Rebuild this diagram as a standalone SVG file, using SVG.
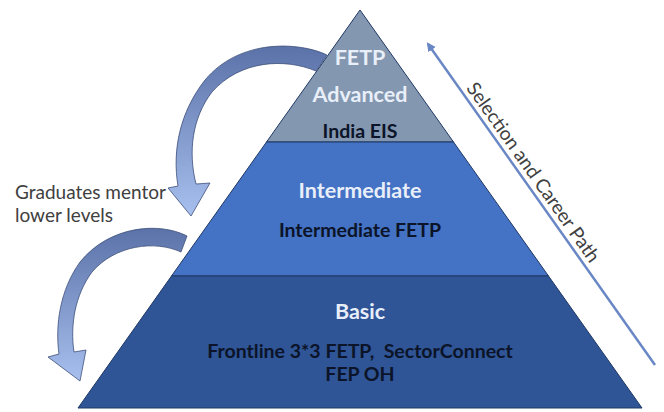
<svg xmlns="http://www.w3.org/2000/svg" width="664" height="412" viewBox="0 0 664 412">
  <style>
    .tier { stroke: #1f3864; stroke-width: 1; }
    .head { font-family: Lato, "Liberation Sans", sans-serif; font-weight: bold; font-size: 21.5px; fill: #e9eff9; text-anchor: middle; }
    .sub { font-family: Lato, "Liberation Sans", sans-serif; font-weight: bold; font-size: 19.5px; fill: #0b1428; text-anchor: middle; }
    .note { font-family: Lato, "Liberation Sans", sans-serif; font-size: 19px; fill: #404040; }
    .curve { fill: url(#curveGrad); stroke: #3d4f7a; stroke-width: 0.8; }
    .path-line { stroke: #6a87c5; stroke-width: 2.5; fill: none; }
  </style>
  <defs>
    <linearGradient id="curveGrad" x1="0" y1="0" x2="0" y2="1">
      <stop offset="0" stop-color="#5a72a8"/>
      <stop offset="1" stop-color="#a8c0ee"/>
    </linearGradient>
    <marker id="pathHead" markerWidth="10" markerHeight="10" refX="7" refY="5" orient="auto" markerUnits="userSpaceOnUse">
      <path d="M0,0.5 L9,5 L0,9.5 Z" fill="#6a87c5"/>
    </marker>
  </defs>

  <g id="tier-advanced">
    <polygon class="tier" points="360,10 453.5,142 266.5,142" fill="#8497b0"/>
    <text class="head" x="360" y="65">FETP</text>
    <text class="head" x="360" y="102">Advanced</text>
    <text class="sub" x="360" y="138">India EIS</text>
  </g>

  <g id="tier-intermediate">
    <polygon class="tier" points="266.5,142 453.5,142 548.5,276 171.5,276" fill="#4472c4"/>
    <text class="head" x="360" y="198">Intermediate</text>
    <text class="sub" x="360" y="237">Intermediate FETP</text>
  </g>

  <g id="tier-basic">
    <polygon class="tier" points="171.5,276 548.5,276 642,408 78,408" fill="#2f5597"/>
    <text class="head" x="360" y="319">Basic</text>
    <text class="sub" x="360" y="358" xml:space="preserve">Frontline 3*3 FETP,  SectorConnect</text>
    <text class="sub" x="360" y="381">FEP OH</text>
  </g>

  <g id="mentor-label">
    <text class="note" x="15" y="199">Graduates mentor</text>
    <text class="note" x="15" y="222">lower levels</text>
  </g>

  <g id="career-label">
    <text class="note" transform="translate(528,176) rotate(54.7)" text-anchor="middle">Selection and Career Path</text>
  </g>

  <g id="connectors">
    <path id="mentor-arrow-1" class="curve" d="M 327 55 C 300 42, 240 38, 205 80 C 180 112, 172 150, 178 186 L 168 188 L 191 216 L 210 183 L 196 184 C 188 152, 192 118, 212 92 C 240 60, 285 58, 316 71 Z"/>
    <path id="mentor-arrow-2" class="curve" d="M 187 236 C 160 222, 110 225, 80 262 C 60 290, 55 325, 59 354 L 48 357 L 80 381 L 86 350 L 74 352 C 70 325, 75 295, 92 272 C 115 245, 155 240, 181 252 Z"/>
    <line id="career-arrow" class="path-line" x1="655" y1="365" x2="428" y2="44" marker-end="url(#pathHead)"/>
  </g>
</svg>
